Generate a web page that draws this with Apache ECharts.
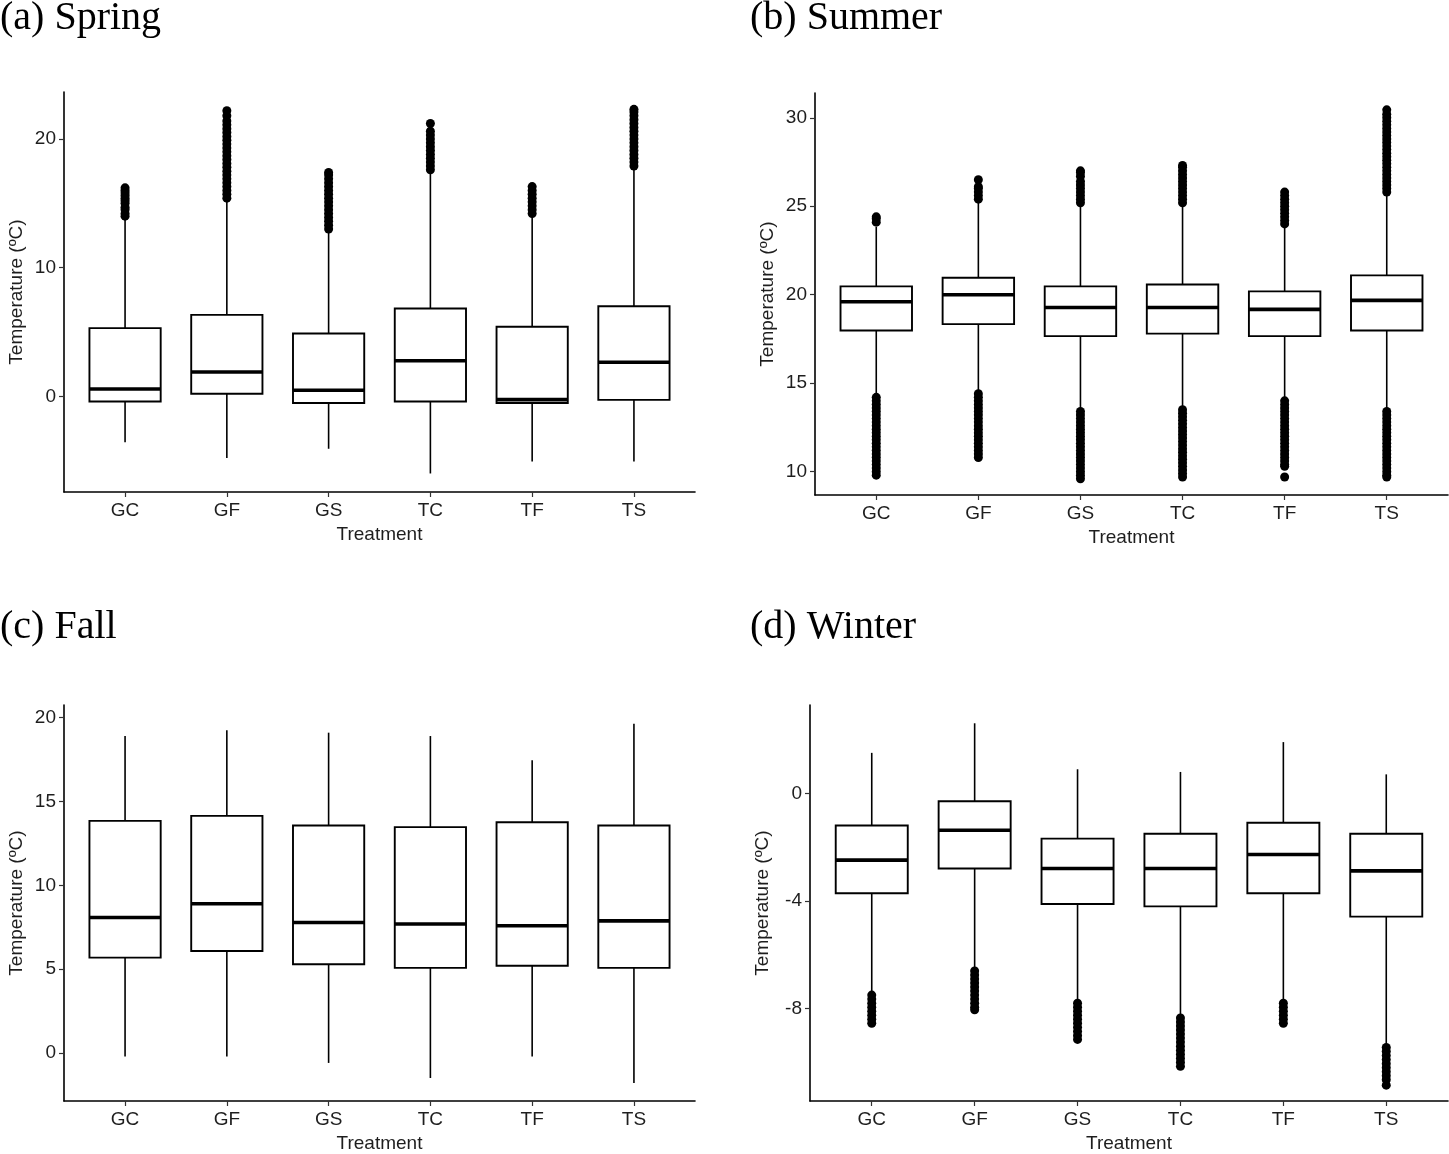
<!DOCTYPE html>
<html>
<head>
<meta charset="utf-8">
<title>Temperature by treatment</title>
<script src="https://cdn.jsdelivr.net/npm/echarts@6.0.0/dist/echarts.min.js"></script>
<style>
  html, body { margin: 0; padding: 0; background: #fff; }
  #chart { width: 1449px; height: 1154px; }
</style>
</head>
<body>
<div id="chart"></div>
<script>
// treatments on every x axis
var categories = ['GC', 'GF', 'GS', 'TC', 'TF', 'TS'];

// box stats per treatment: [lower whisker, Q1, median, Q3, upper whisker]
var springBoxes = [
  [-3.57, -0.41, 0.57, 5.30, 13.9],
  [-4.8, 0.2, 1.89, 6.33, 15.3],
  [-4.08, -0.52, 0.47, 4.88, 12.84],
  [-6.0, -0.41, 2.76, 6.82, 17.5],
  [-5.06, -0.52, -0.26, 5.4, 14.1],
  [-5.06, -0.28, 2.64, 7.0, 17.75]
];
var summerBoxes = [
  [14.3, 17.98, 19.6, 20.47, 23.83],
  [14.49, 18.34, 20.0, 20.96, 25.3],
  [13.49, 17.66, 19.28, 20.47, 25.15],
  [13.58, 17.8, 19.28, 20.58, 25.1],
  [14.06, 17.66, 19.17, 20.19, 23.83],
  [13.49, 17.98, 19.68, 21.09, 25.72]
];
var fallBoxes = [
  [-0.2, 5.69, 8.08, 13.84, 18.9],
  [-0.2, 6.08, 8.9, 14.14, 19.25],
  [-0.59, 5.29, 7.78, 13.57, 19.1],
  [-1.49, 5.08, 7.69, 13.47, 18.9],
  [-0.2, 5.2, 7.59, 13.76, 17.45],
  [-1.78, 5.08, 7.88, 13.57, 19.63]
];
var winterBoxes = [
  [-7.39, -3.71, -2.48, -1.19, 1.51],
  [-6.53, -2.79, -1.37, -0.29, 2.61],
  [-7.69, -4.11, -2.79, -1.68, 0.9],
  [-8.25, -4.2, -2.79, -1.5, 0.8],
  [-7.69, -3.71, -2.27, -1.09, 1.91],
  [-9.35, -4.58, -2.88, -1.5, 0.71]
];

// outlying points
var springOutliers = [
  [14.0, 14.2, 14.5, 14.7, 15.0, 15.2, 15.4, 15.6, 15.8, 16.0, 16.2],
  [15.4, 15.7, 16.0, 16.3, 16.6, 16.9, 17.2, 17.5, 17.8, 18.1, 18.4, 18.7, 19.0, 19.3, 19.6, 19.9, 20.2, 20.5, 20.8, 21.1, 21.4, 21.8, 22.2],
  [13.0, 13.3, 13.6, 13.9, 14.2, 14.5, 14.8, 15.1, 15.4, 15.7, 16.0, 16.3, 16.6, 16.9, 17.2, 17.4],
  [17.6, 17.9, 18.2, 18.5, 18.8, 19.1, 19.4, 19.7, 20.0, 20.3, 20.6, 21.2],
  [14.2, 14.5, 14.8, 15.1, 15.4, 15.7, 16.0, 16.3],
  [17.9, 18.2, 18.5, 18.8, 19.1, 19.4, 19.7, 20.0, 20.3, 20.6, 20.9, 21.2, 21.5, 21.8, 22.1, 22.3]
];
var summerOutliers = [
  [24.1, 24.3, 24.4,
   14.2, 14.0, 13.8, 13.6, 13.4, 13.2, 13.0, 12.8, 12.6, 12.4, 12.2, 12.0, 11.8, 11.6, 11.4, 11.2,
   11.0, 10.8, 10.6, 10.4, 10.2, 10.0, 9.8],
  [25.4, 25.6, 25.8, 26.0, 26.1, 26.5,
   14.4, 14.2, 14.0, 13.8, 13.6, 13.4, 13.2, 13.0, 12.8, 12.6, 12.4, 12.2, 12.0, 11.8, 11.6, 11.4,
   11.2, 11.0, 10.8],
  [25.2, 25.4, 25.6, 25.8, 26.0, 26.2, 26.4, 26.7, 26.9, 27.0,
   13.4, 13.2, 13.0, 12.8, 12.6, 12.4, 12.2, 12.0, 11.8, 11.6, 11.4, 11.2, 11.0, 10.8, 10.6, 10.4,
   10.2, 10.0, 9.8, 9.6],
  [25.2, 25.4, 25.6, 25.8, 26.0, 26.2, 26.4, 26.6, 26.8, 27.0, 27.2, 27.3,
   13.5, 13.3, 13.1, 12.9, 12.7, 12.5, 12.3, 12.1, 11.9, 11.7, 11.5, 11.3, 11.1, 10.9, 10.7, 10.5,
   10.3, 10.1, 9.9, 9.7],
  [24.0, 24.2, 24.4, 24.6, 24.8, 25.0, 25.2, 25.4, 25.6, 25.8,
   14.0, 13.8, 13.6, 13.4, 13.2, 13.0, 12.8, 12.6, 12.4, 12.2, 12.0, 11.8, 11.6, 11.4, 11.2, 11.0,
   10.8, 10.6, 10.4, 10.3, 9.7],
  [25.8, 26.0, 26.2, 26.4, 26.6, 26.8, 27.0, 27.2, 27.4, 27.6, 27.8, 28.0, 28.2, 28.4, 28.6, 28.8,
   29.0, 29.2, 29.4, 29.6, 29.8, 30.0, 30.2, 30.45,
   13.4, 13.2, 13.0, 12.8, 12.6, 12.4, 12.2, 12.0, 11.8, 11.6, 11.4, 11.2, 11.0, 10.8, 10.6, 10.4,
   10.2, 10.0, 9.8, 9.7]
];
var fallOutliers = [[], [], [], [], [], []];
var winterOutliers = [
  [-7.5, -7.65, -7.8, -7.95, -8.1, -8.25, -8.4, -8.55],
  [-6.6, -6.75, -6.9, -7.05, -7.2, -7.35, -7.5, -7.65, -7.8, -7.95, -8.05],
  [-7.8, -7.95, -8.1, -8.25, -8.4, -8.55, -8.7, -8.85, -9.0, -9.15],
  [-8.35, -8.5, -8.65, -8.8, -8.95, -9.1, -9.25, -9.4, -9.55, -9.7, -9.85, -10.0, -10.15],
  [-7.8, -7.95, -8.1, -8.25, -8.4, -8.55],
  [-9.45, -9.6, -9.75, -9.9, -10.05, -10.2, -10.35, -10.5, -10.65, -10.85]
];

// tick labels
var springTicks = [0, 10, 20];
var summerTicks = [10, 15, 20, 25, 30];
var fallTicks = [0, 5, 10, 15, 20];
var winterTicks = [-8, -4, 0];

var titles = ['(a) Spring', '(b) Summer', '(c) Fall', '(d) Winter'];

var panels = [
  { boxes: springBoxes, outs: springOutliers, ticks: springTicks, min: -7.44, max: 23.65,
    grid: { left: 64, top: 92, width: 631, height: 400 }, title: { left: 0, top: -2 } },
  { boxes: summerBoxes, outs: summerOutliers, ticks: summerTicks, min: 8.68, max: 31.4,
    grid: { left: 815, top: 93, width: 633, height: 402 }, title: { left: 750, top: -2 } },
  { boxes: fallBoxes, outs: fallOutliers, ticks: fallTicks, min: -2.86, max: 20.75,
    grid: { left: 64, top: 705, width: 631, height: 401 }, title: { left: 0, top: 607 } },
  { boxes: winterBoxes, outs: winterOutliers, ticks: winterTicks, min: -11.44, max: 3.29,
    grid: { left: 810, top: 705, width: 638, height: 400 }, title: { left: 750, top: 607 } }
];

var sans = "'Liberation Sans', Arial, sans-serif";
var serif = "'Liberation Serif', 'Times New Roman', serif";
var textColor = '#1e1e1e';
var halfBox = 0.35;
var catPos = [1, 2, 3, 4, 5, 6];

function renderBox(params, api) {
  var x = api.value(0);
  var top = api.coord([x, api.value(5)]);
  var q3 = api.coord([x, api.value(4)]);
  var q1 = api.coord([x, api.value(2)]);
  var bottom = api.coord([x, api.value(1)]);
  var boxL = api.coord([x - halfBox, api.value(4)]);
  var boxR = api.coord([x + halfBox, api.value(2)]);
  var medL = api.coord([x - halfBox, api.value(3)]);
  var medR = api.coord([x + halfBox, api.value(3)]);
  var line = { stroke: '#000', lineWidth: 1.6 };
  return {
    type: 'group',
    children: [
      { type: 'line', shape: { x1: top[0], y1: top[1], x2: q3[0], y2: q3[1] }, style: line },
      { type: 'line', shape: { x1: q1[0], y1: q1[1], x2: bottom[0], y2: bottom[1] }, style: line },
      { type: 'rect', shape: { x: boxL[0], y: boxL[1], width: boxR[0] - boxL[0], height: boxR[1] - boxL[1] },
        style: { fill: '#fff', stroke: '#000', lineWidth: 1.9 } },
      { type: 'line', shape: { x1: medL[0], y1: medL[1], x2: medR[0], y2: medR[1] },
        style: { stroke: '#000', lineWidth: 3.6 } }
    ]
  };
}

var option = {
  animation: false,
  backgroundColor: '#fff',
  title: [],
  grid: [],
  xAxis: [],
  yAxis: [],
  series: []
};

for (var i = 0; i < panels.length; i++) {
  var p = panels[i];
  option.title.push({
    text: titles[i], left: p.title.left, top: p.title.top, padding: 0,
    textStyle: { fontFamily: serif, fontSize: 40, fontWeight: 'normal', color: '#000' }
  });
  option.grid.push(p.grid);
  option.xAxis.push({
    gridIndex: i, type: 'value', min: 0.4, max: 6.6,
    name: 'Treatment', nameLocation: 'middle', nameGap: 33,
    nameTextStyle: { fontFamily: sans, fontSize: 19, color: textColor },
    axisLine: { show: true, onZero: false, lineStyle: { color: '#000', width: 1.6 } },
    axisTick: { show: true, length: 5, customValues: catPos, lineStyle: { color: '#333', width: 1.2 } },
    axisLabel: {
      customValues: catPos, margin: 9, fontFamily: sans, fontSize: 19, color: textColor,
      formatter: function (v) { return categories[Math.round(v) - 1] || ''; }
    },
    splitLine: { show: false }
  });
  option.yAxis.push({
    gridIndex: i, type: 'value', min: p.min, max: p.max,
    name: 'Temperature (ºC)', nameLocation: 'middle', nameGap: 38,
    nameTextStyle: { fontFamily: sans, fontSize: 19, color: textColor },
    axisLine: { show: true, onZero: false, lineStyle: { color: '#000', width: 1.6 } },
    axisTick: { show: true, length: 5, customValues: p.ticks, lineStyle: { color: '#333', width: 1.2 } },
    axisLabel: { customValues: p.ticks, margin: 8, fontFamily: sans, fontSize: 19, color: textColor },
    splitLine: { show: false }
  });

  var boxData = [];
  var outData = [];
  for (var k = 0; k < categories.length; k++) {
    boxData.push([k + 1].concat(p.boxes[k]));
    for (var j = 0; j < p.outs[k].length; j++) {
      outData.push([k + 1, p.outs[k][j]]);
    }
  }
  option.series.push({
    type: 'scatter', xAxisIndex: i, yAxisIndex: i,
    data: outData, symbol: 'circle', symbolSize: 9,
    itemStyle: { color: '#000', opacity: 1 }, silent: true
  });
  option.series.push({
    type: 'custom', xAxisIndex: i, yAxisIndex: i,
    renderItem: renderBox,
    encode: { x: 0, y: [1, 2, 3, 4, 5] },
    data: boxData, silent: true
  });
}

var ele = echarts.init(document.getElementById('chart'));
ele.setOption(option);
</script>
</body>
</html>
